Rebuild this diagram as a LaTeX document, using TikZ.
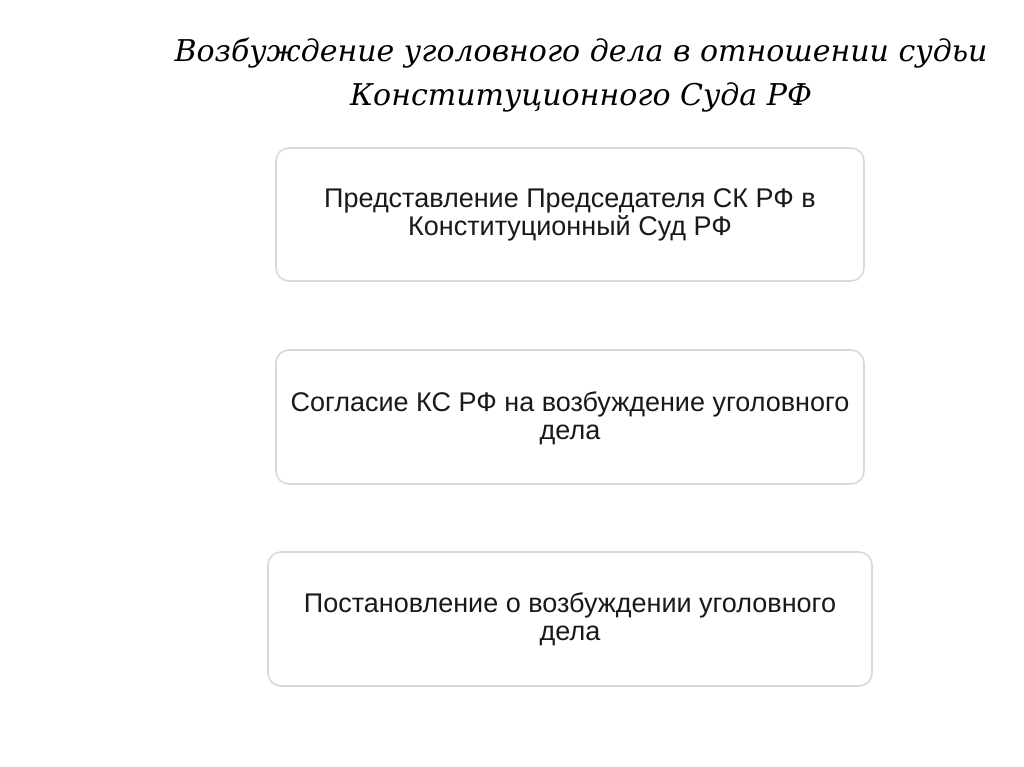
\documentclass[tikz,border=0pt]{standalone}
\usepackage{fontspec}
\setmainfont{Liberation Sans}
\newfontfamily\titlefont{DejaVu Serif}
\begin{document}
\begin{tikzpicture}[x=1pt,y=-1pt,
  stagebox/.style={draw=black!15, line width=1.6pt, rounded corners=13pt, fill=white},
  boxtext/.style={font=\fontsize{27}{28}\selectfont, align=center, text=black!90},
  titletext/.style={font=\titlefont\itshape\fontsize{30}{44}\selectfont, align=center, text=black}]
\useasboundingbox (0,0) rectangle (1024,767);
\node[titletext] (title) at (581,75) {Возбуждение уголовного дела в отношении судьи\\Конституционного Суда РФ};
\draw[stagebox] (276,148) rectangle (864,281);
\node[boxtext] (b1) at (570,215) {Представление Председателя СК РФ в\\Конституционный Суд РФ};
\draw[stagebox] (276,350) rectangle (864,484);
\node[boxtext] (b2) at (570,418) {Согласие КС РФ на возбуждение уголовного\\дела};
\draw[stagebox] (268,552) rectangle (872,686);
\node[boxtext] (b3) at (570,619) {Постановление о возбуждении уголовного\\дела};
\end{tikzpicture}
\end{document}
